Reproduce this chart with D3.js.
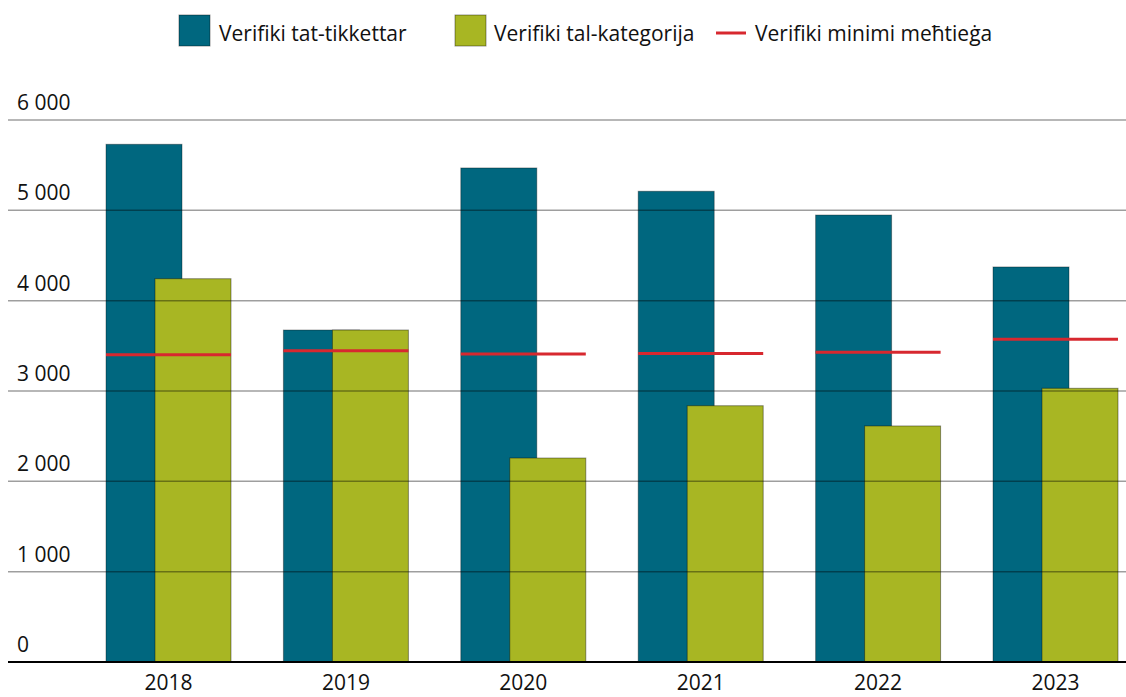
<!DOCTYPE html>
<html><head><meta charset="utf-8">
<script src="https://cdn.jsdelivr.net/npm/d3@7/dist/d3.min.js"></script>
<style>body{margin:0;background:#fff}svg{display:block;font-family:"Open Sans",sans-serif}</style>
</head><body><svg id="c" width="1126" height="697"></svg>
<script>
const years = ["2018","2019","2020","2021","2022","2023"];
const tickets = [5731, 3675, 5469, 5211, 4948, 4373];
const categories = [4243, 3675, 2258, 2837, 2613, 3030];
const minimum = [3402, 3446, 3410, 3415, 3428, 3573];
const yTicks = [0, 1000, 2000, 3000, 4000, 5000, 6000];
const seriesNames = ["Verifiki tat-tikkettar", "Verifiki tal-kategorija", "Verifiki minimi meħtieġa"];
const colors = {blue:"#00677f", green:"#a8b623", red:"#d7282f"};

const svg = d3.select("#c");
const y = d3.scaleLinear().domain([0, 6000]).range([662, 120]);
const x = d3.scaleBand().domain(years).range([106, 1118]).paddingInner(0.2954).paddingOuter(0);
const bw = x.bandwidth();
const barW = bw * 0.608;
const fmt = v => d3.format(",")(v).replace(/,/g, " ");
const FS = 21;

// bars
const g = svg.append("g");
years.forEach((yr, i) => {
  g.append("rect").attr("x", x(yr)).attr("y", y(tickets[i])).attr("width", barW)
    .attr("height", y(0) - y(tickets[i])).attr("fill", colors.blue)
    .attr("stroke", "rgba(0,0,0,0.35)").attr("stroke-width", 1);
  g.append("rect").attr("x", x(yr) + bw - barW).attr("y", y(categories[i])).attr("width", barW)
    .attr("height", y(0) - y(categories[i])).attr("fill", colors.green)
    .attr("stroke", "rgba(0,0,0,0.4)").attr("stroke-width", 1);
});

// gridlines
yTicks.filter(t => t > 0).forEach(t => {
  svg.append("line").attr("x1", 8).attr("x2", 1126).attr("y1", y(t)).attr("y2", y(t))
    .attr("stroke", "rgba(0,0,0,0.38)").attr("stroke-width", 1.5);
});
// baseline
svg.append("line").attr("x1", 8).attr("x2", 1126).attr("y1", y(0)).attr("y2", y(0))
  .attr("stroke", "#000").attr("stroke-width", 2);

// minimum lines
years.forEach((yr, i) => {
  svg.append("line").attr("x1", x(yr)).attr("x2", x(yr) + bw).attr("y1", y(minimum[i])).attr("y2", y(minimum[i]))
    .attr("stroke", colors.red).attr("stroke-width", 3);
});

// y labels
yTicks.forEach(t => {
  svg.append("text").attr("x", 17).attr("y", y(t) - 10).attr("font-size", FS).attr("fill", "#111").text(fmt(t));
});
// x labels
years.forEach(yr => {
  svg.append("text").attr("x", x(yr) + bw / 2).attr("y", 690).attr("text-anchor", "middle")
    .attr("font-size", FS).attr("fill", "#111").text(yr);
});

// legend
const lg = svg.append("g");
lg.append("rect").attr("x", 179).attr("y", 15).attr("width", 31).attr("height", 31).attr("fill", colors.blue).attr("stroke", "rgba(0,0,0,0.4)");
lg.append("text").attr("x", 219).attr("y", 41).attr("font-size", FS).attr("fill", "#111").text(seriesNames[0]);
lg.append("rect").attr("x", 455).attr("y", 15).attr("width", 31).attr("height", 31).attr("fill", colors.green).attr("stroke", "rgba(0,0,0,0.4)");
lg.append("text").attr("x", 494).attr("y", 41).attr("font-size", FS).attr("fill", "#111").text(seriesNames[1]);
lg.append("line").attr("x1", 716).attr("x2", 746).attr("y1", 33).attr("y2", 33).attr("stroke", colors.red).attr("stroke-width", 3);
lg.append("text").attr("x", 755).attr("y", 41).attr("font-size", FS).attr("fill", "#111").text(seriesNames[2]);
</script></body></html>
